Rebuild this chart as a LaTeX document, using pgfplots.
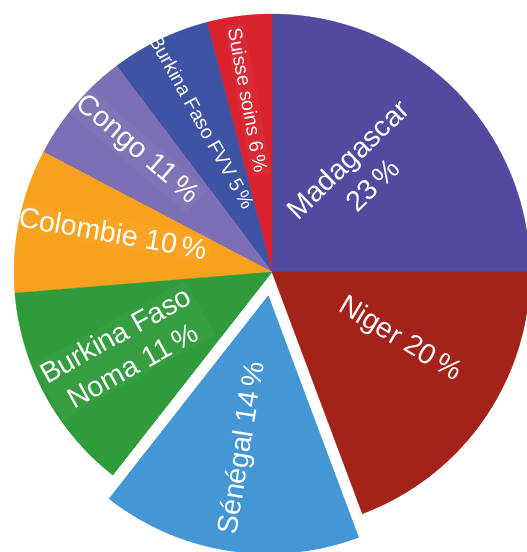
\documentclass[border=0pt]{standalone}
\usepackage{fontspec}
\setmainfont{Liberation Sans}
\usepackage{pgfplots}
\pgfplotsset{compat=1.18}
\definecolor{cMad}{RGB}{82,74,158}
\definecolor{cNig}{RGB}{163,35,26}
\definecolor{cSen}{RGB}{69,150,213}
\definecolor{cNoma}{RGB}{47,155,59}
\definecolor{cCol}{RGB}{247,161,30}
\definecolor{cCon}{RGB}{125,111,180}
\definecolor{cFVV}{RGB}{62,83,164}
\definecolor{cSui}{RGB}{216,34,46}
\newcommand{\bigfnt}{\fontsize{28.5}{35}\selectfont}
\newcommand{\smallfnt}{\fontsize{19.5}{23}\selectfont}
\tikzset{lbl/.style={text=white, inner sep=3pt},
  lblbox/.style={lbl, fill=white, fill opacity=0.035, text opacity=1}}
\begin{document}
\begin{tikzpicture}
\begin{axis}[
  scale only axis, width=527pt, height=552pt,
  xmin=-272, xmax=255, ymin=-280, ymax=272,
  axis lines=none, ticks=none, clip=true,
]
\path (rel axis cs:0,0) rectangle (rel axis cs:1,1);
% slice boundaries (degrees, counter-clockwise from east), as drawn in the reference
% Madagascar
\addplot[fill=cMad, draw=cMad, line width=0.3pt, domain=0:90, samples=60] ({258*cos(x)},{258*sin(x)}) -- (0,0) -- cycle;
% Suisse soins
\addplot[fill=cSui, draw=cSui, line width=0.3pt, domain=90:104.6, samples=20] ({258*cos(x)},{258*sin(x)}) -- (0,0) -- cycle;
% Burkina Faso FVV
\addplot[fill=cFVV, draw=cFVV, line width=0.3pt, domain=104.6:127, samples=20] ({258*cos(x)},{258*sin(x)}) -- (0,0) -- cycle;
% Congo
\addplot[fill=cCon, draw=cCon, line width=0.3pt, domain=127:152.3, samples=20] ({258*cos(x)},{258*sin(x)}) -- (0,0) -- cycle;
% Colombie
\addplot[fill=cCol, draw=cCol, line width=0.3pt, domain=152.3:184.7, samples=25] ({258*cos(x)},{258*sin(x)}) -- (0,0) -- cycle;
% Burkina Faso Noma
\addplot[fill=cNoma, draw=cNoma, line width=0.3pt, domain=184.7:231.9, samples=35] ({258*cos(x)},{258*sin(x)}) -- (0,0) -- cycle;
% Niger
\addplot[fill=cNig, draw=cNig, line width=0.3pt, domain=-69.5:0, samples=50] ({258*cos(x)},{258*sin(x)}) -- (0,0) -- cycle;
% Senegal (exploded)
\addplot[fill=cSen, draw=cSen, line width=0.3pt, domain=-128.1:-69.5, samples=45] ({-3.7+258*cos(x)},{-23.7+258*sin(x)}) -- (-3.7,-23.7) -- cycle;

\node[lbl, rotate=44, align=center, font=\bigfnt] at (axis cs:88,100) {Madagascar\\23\,\%};
\node[lblbox, rotate=-79.5, font=\smallfnt] at (axis cs:-24,172) {Suisse soins 6\,\%};
\node[lbl, rotate=-61, font=\smallfnt] at (axis cs:-70,150) {Burkina Faso FVV 5\,\%};
\node[lblbox, rotate=-40.5, font=\bigfnt] at (axis cs:-135,122) {Congo 11\,\%};
\node[lblbox, rotate=-10, font=\bigfnt] at (axis cs:-159,39) {Colombie 10\,\%};
\node[lblbox, rotate=29, align=center, font=\bigfnt] at (axis cs:-148,-78) {Burkina Faso\\Noma 11\,\%};
\node[lbl, rotate=81, font=\bigfnt] at (axis cs:-29,-176) {Sénégal 14\,\%};
\node[lbl, rotate=-31, font=\bigfnt] at (axis cs:128,-68) {Niger 20\,\%};
\end{axis}
\end{tikzpicture}
\end{document}
